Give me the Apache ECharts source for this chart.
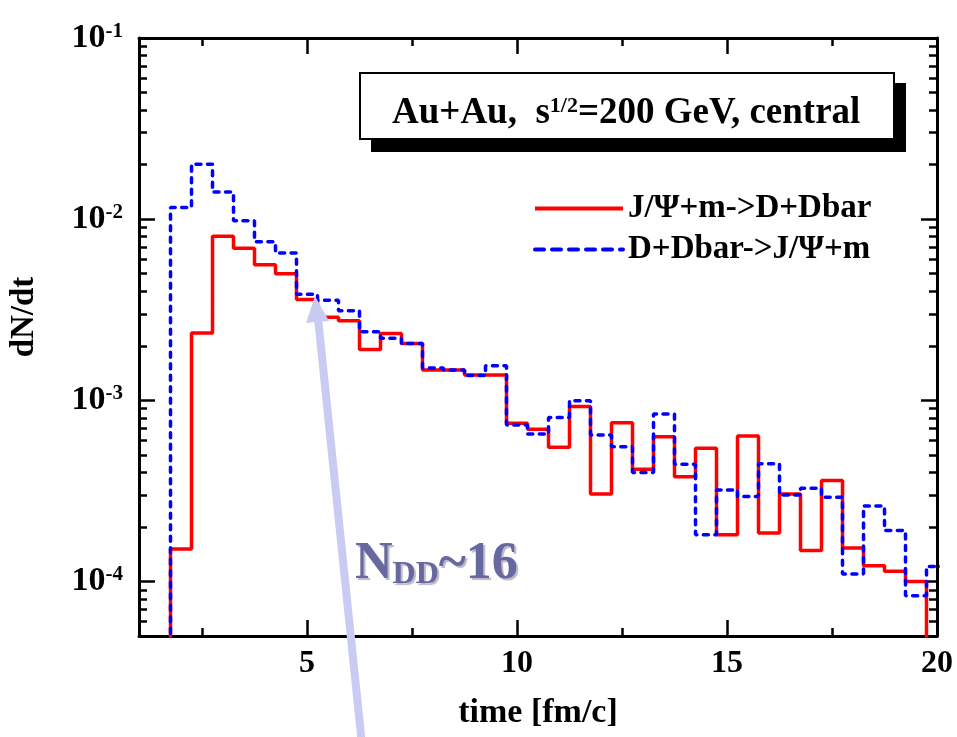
<!DOCTYPE html>
<html><head><meta charset="utf-8">
<script src="https://cdn.jsdelivr.net/npm/echarts@6/dist/echarts.min.js"></script>
<style>html,body{margin:0;padding:0;background:#fff}#c{width:957px;height:737px}</style>
</head><body><div id="c"></div>
<script>
// bin edges of the time histogram [fm/c]
const timeEdges = [1.75, 2.25, 2.75, 3.25, 3.75, 4.25, 4.75, 5.25, 5.75, 6.25, 6.75, 7.25, 7.75, 8.25, 8.75, 9.25, 9.75,
  10.25, 10.75, 11.25, 11.75, 12.25, 12.75, 13.25, 13.75, 14.25, 14.75, 15.25, 15.75, 16.25, 16.75, 17.25, 17.75,
  18.25, 18.75, 19.25, 19.75, 20.25];
// J/Psi + m -> D + Dbar (red, solid)
const rateJpsiToDD = [1.51e-4, 2.35e-3, 8.05e-3, 6.9e-3, 5.6e-3, 5.0e-3, 3.6e-3, 2.87e-3, 2.75e-3, 1.91e-3, 2.34e-3,
  2.06e-3, 1.47e-3, 1.47e-3, 1.38e-3, 1.38e-3, 7.46e-4, 6.92e-4, 5.5e-4, 9.23e-4, 3.04e-4, 7.52e-4, 4.16e-4, 6.29e-4,
  3.79e-4, 5.43e-4, 1.81e-4, 6.35e-4, 1.85e-4, 3.04e-4, 1.48e-4, 3.61e-4, 1.53e-4, 1.22e-4, 1.14e-4, 1.0e-4, 0];
// D + Dbar -> J/Psi + m (blue, dashed)
const rateDDToJpsi = [1.16e-2, 2.01e-2, 1.41e-2, 9.8e-3, 7.5e-3, 6.5e-3, 3.85e-3, 3.57e-3, 3.12e-3, 2.39e-3, 2.2e-3,
  2.06e-3, 1.51e-3, 1.47e-3, 1.37e-3, 1.55e-3, 7.31e-4, 6.52e-4, 8.05e-4, 9.96e-4, 6.44e-4, 5.54e-4, 3.99e-4, 8.39e-4,
  4.44e-4, 1.81e-4, 3.2e-4, 2.94e-4, 4.46e-4, 3.0e-4, 3.27e-4, 2.92e-4, 1.1e-4, 2.61e-4, 1.91e-4, 8.34e-5, 1.21e-4];

const xLabelTicks = [5, 10, 15, 20];
const xMinorTicks = [2.5, 7.5, 12.5, 17.5];
const yMin = 5e-5, yMax = 0.1;
const yMinorMantissas = [2, 3, 4, 5, 6, 7, 8, 9];
const yDecades = [-5, -4, -3, -2];
const belowAxis = 1e-6;

const FF = '"Liberation Serif","Times New Roman",serif';

function histPoints(vals) {
  const pts = [[timeEdges[0], belowAxis]];
  vals.forEach((v, i) => pts.push([timeEdges[i], v > 0 ? v : belowAxis]));
  const last = vals[vals.length - 1];
  pts.push([timeEdges[vals.length], last > 0 ? last : belowAxis]);
  return pts;
}

const yMinorLog = [];
yDecades.forEach(e => yMinorMantissas.forEach(m => {
  const v = m * Math.pow(10, e);
  if (v >= yMin * 0.999 && v <= yMax) yMinorLog.push(Math.log10(v));
}));

const axLine = {color: '#000', width: 3};
const tkLine = {color: '#000', width: 2.5};
const boldText = {fontFamily: FF, fontWeight: 'bold', color: '#000'};

function xAx(pos, ticks, len, showLine) {
  return {type: 'value', min: 1, max: 20, position: pos, gridIndex: 0,
    axisLine: {show: showLine, onZero: false, lineStyle: axLine},
    axisTick: {inside: true, length: len, customValues: ticks, lineStyle: tkLine},
    axisLabel: {show: false}, splitLine: {show: false}};
}
function yLog(pos) {
  return {type: 'log', logBase: 10, min: yMin, max: yMax, position: pos,
    axisLine: {show: true, onZero: false, lineStyle: axLine},
    axisTick: {inside: true, length: 16, lineStyle: tkLine},
    axisLabel: {show: false}, splitLine: {show: false}, minorTick: {show: false}};
}
function yMinor(pos) {
  return {type: 'value', min: Math.log10(yMin), max: Math.log10(yMax), position: pos,
    axisLine: {show: false, onZero: false},
    axisTick: {inside: true, length: 8, customValues: yMinorLog, lineStyle: tkLine},
    axisLabel: {show: false}, splitLine: {show: false}};
}

const xMain = xAx('bottom', xLabelTicks, 16, true);
xMain.axisLabel = Object.assign({show: true, customValues: xLabelTicks, margin: 12, fontSize: 32}, boldText);
xMain.name = 'time [fm/c]';
xMain.nameLocation = 'middle';
xMain.nameGap = 60;
xMain.nameTextStyle = Object.assign({fontSize: 34}, boldText);

const yMain = yLog('left');
yMain.axisLabel = {
  show: true, showMinLabel: false, margin: 16,
  formatter: function (v) {
    const l = Math.log10(v), e = Math.round(l);
    if (Math.abs(l - e) > 1e-6) return '';
    return '{b|10}{s|' + e + '}';
  },
  rich: {
    b: Object.assign({fontSize: 34, verticalAlign: 'bottom'}, boldText),
    s: Object.assign({fontSize: 21, verticalAlign: 'top'}, boldText)
  }
};
yMain.name = 'dN/dt';
yMain.nameLocation = 'middle';
yMain.nameRotate = 90;
yMain.nameGap = 98;
yMain.nameTextStyle = Object.assign({fontSize: 33, padding: [0, 0, 0, 40]}, boldText);

const nameRed = 'J/\u03A8+m->D+Dbar';
const nameBlue = 'D+Dbar->J/\u03A8+m';

const option = {
  backgroundColor: '#fff',
  animation: false,
  grid: {left: 138, top: 38, width: 799, height: 598, containLabel: false},
  title: {
    text: '{t|Au+Au,  s}{sup|1/2}{t|=200 GeV, central}',
    left: 360, top: 73, padding: [22, 30, 10, 32], z: 10,
    textStyle: {
      rich: {
        t: Object.assign({fontSize: 37, verticalAlign: 'bottom'}, boldText),
        sup: Object.assign({fontSize: 22, verticalAlign: 'top'}, boldText)
      }
    }
  },
  legend: {
    orient: 'vertical', left: 533, top: 192, padding: 0,
    itemWidth: 88, itemHeight: 14, itemGap: 8,
    itemStyle: {opacity: 0},
    textStyle: Object.assign({fontSize: 33}, boldText),
    data: [
      {name: nameRed, lineStyle: {width: 4}},
      {name: nameBlue, lineStyle: {width: 4, type: [9, 8], cap: 'round'}}
    ]
  },
  xAxis: [xMain, xAx('bottom', xMinorTicks, 8, false), xAx('top', [5, 10, 15], 16, true), xAx('top', xMinorTicks, 8, false)],
  yAxis: [yMain, yMinor('left'), yLog('right'), yMinor('right')],
  series: [
    {name: nameRed, type: 'line', xAxisIndex: 0, yAxisIndex: 0, step: 'end',
      symbol: 'none', clip: true, data: histPoints(rateJpsiToDD),
      lineStyle: {color: '#ff0000', width: 3.5}, itemStyle: {color: '#ff0000'}, z: 3},
    {name: nameBlue, type: 'line', xAxisIndex: 0, yAxisIndex: 0, step: 'end',
      symbol: 'none', clip: true, data: histPoints(rateDDToJpsi),
      lineStyle: {color: '#0000ff', width: 3.5, type: [5, 6.5], cap: 'round'}, itemStyle: {color: '#0000ff'}, z: 4}
  ],
  graphic: [
    {type: 'rect', z: 5, shape: {x: 371, y: 83, width: 535, height: 69}, style: {fill: '#000'}},
    {type: 'rect', z: 6, shape: {x: 360, y: 73, width: 534, height: 66}, style: {fill: '#fff', stroke: '#000', lineWidth: 2}},
    {type: 'line', z: 100, shape: {x1: 362, y1: 745, x2: 318, y2: 318},
      style: {stroke: '#c9cbf2', lineWidth: 8}},
    {type: 'polygon', z: 100, shape: {points: [[315, 296], [329, 321], [306, 323]]},
      style: {fill: '#c9cbf2'}},
    {type: 'text', z: 101, x: 355, y: 565,
      style: {
        text: '{n|N}{d|DD}{n|~16}', verticalAlign: 'middle',
        rich: {
          n: {fontFamily: FF, fontWeight: 'bold', fontSize: 52, fill: '#6868a0', verticalAlign: 'bottom',
            textShadowColor: '#b8b8c8', textShadowOffsetX: 2, textShadowOffsetY: 2, textShadowBlur: 1},
          d: {fontFamily: FF, fontWeight: 'bold', fontSize: 32, fill: '#6868a0', verticalAlign: 'bottom',
            textShadowColor: '#b8b8c8', textShadowOffsetX: 2, textShadowOffsetY: 2, textShadowBlur: 1}
        }
      }}
  ]
};
const chart = echarts.init(document.getElementById('c'), null, {renderer: 'canvas'});
chart.setOption(option);
</script></body></html>
